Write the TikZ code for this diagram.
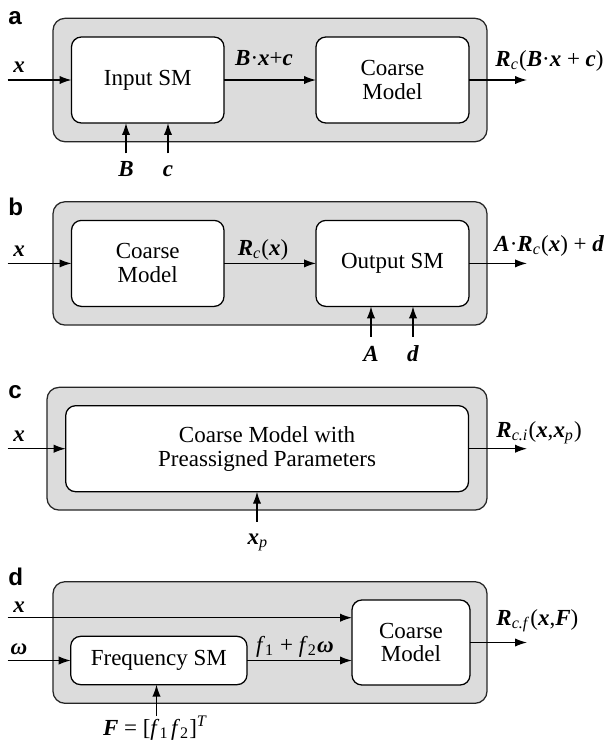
\documentclass[tikz,border=0pt]{standalone}
\usepackage{fontspec}
\setmainfont{Liberation Serif}
\newfontfamily\panelfont{Liberation Sans}
\usetikzlibrary{arrows.meta}

% one drawing unit
\newcommand\px{0.4348pt}
% bold italic vector / italic scalar
\newcommand\bv[1]{\textbf{\textit{#1}}}
\newcommand\iv[1]{\textit{#1}}

\definecolor{panelgray}{RGB}{220,220,220}

\tikzset{
  panel/.style 2 args={draw=black!85, fill=panelgray, line width=0.55pt,
    rounded corners=5.2pt, minimum width=#1*\px, minimum height=#2*\px,
    inner sep=0pt, outer sep=0pt},
  block/.style 2 args={draw=black, fill=white, line width=0.55pt,
    rounded corners=4.3pt, minimum width=#1*\px, minimum height=#2*\px,
    inner sep=0pt, outer sep=0pt, align=center,
    font=\fontsize{10}{10.4}\selectfont},
  flow/.style={line width=0.55pt, -{Latex[length=5.2pt,width=3.6pt]}},
  lbl/.style={anchor=base, inner sep=0pt},
  lbll/.style={anchor=base west, inner sep=0pt},
  tag/.style={anchor=base west, inner sep=0pt,
    font=\panelfont\bfseries\fontsize{10.5}{12}\selectfont},
}

\begin{document}
\begin{tikzpicture}[x=\px, y=-\px]
\useasboundingbox (0,0) rectangle (606,745);

% ---------------- (a) input space mapping ----------------
\node[tag] (tagA) at (8,24) {a};
\node[panel={434}{123.4}] (outA) at (270,80) {};
\node[block={152.5}{86}] (inA) at (147.75,80) {Input SM};
\node[block={153}{86}] (cmA) at (392.5,80) {Coarse\\Model};
\coordinate (xA) at (7.7,80);
\coordinate (yA) at (527,80);
\coordinate (BA) at (126,153.3);
\coordinate (cA) at (168,153.3);
\draw[flow] (xA) -- (inA.west);
\draw[flow] (inA.east) -- (cmA.west);
\draw[flow] (cmA.east) -- (yA);
\draw[flow] (BA) -- (BA |- inA.south);
\draw[flow] (cA) -- (cA |- inA.south);
\node[lbl] (lxA) at (19,72) {\bv{x}};
\node[lbl] (lmidA) at (264,65) {\bv{B}·\bv{x}+\bv{c}};
\node[lbll] (loutA) at (495,66) {\bv{R}\textsubscript{\iv{c}}(\bv{B}·\bv{x} + \bv{c})};
\node[lbl] (lBA) at (126,176) {\bv{B}};
\node[lbl] (lcA) at (168,176) {\bv{c}};

% ---------------- (b) output space mapping ----------------
\node[tag] (tagB) at (8,215) {b};
\node[panel={434}{123.3}] (outB) at (270,263.4) {};
\node[block={152.5}{86}] (cmB) at (147.75,263.4) {Coarse\\Model};
\node[block={153}{86}] (osB) at (392.5,263.4) {Output SM};
\coordinate (xB) at (7.7,263.4);
\coordinate (yB) at (527,263.4);
\coordinate (AB) at (371,336.7);
\coordinate (dB) at (413,336.7);
\draw[flow] (xB) -- (cmB.west);
\draw[flow] (cmB.east) -- (osB.west);
\draw[flow] (osB.east) -- (yB);
\draw[flow] (AB) -- (AB |- osB.south);
\draw[flow] (dB) -- (dB |- osB.south);
\node[lbl] (lxB) at (19,256) {\bv{x}};
\node[lbl] (lmidB) at (263,255) {\bv{R}\textsubscript{\iv{c}}(\bv{x})};
\node[lbll] (loutB) at (494,251) {\bv{A}·\bv{R}\textsubscript{\iv{c}}(\bv{x}) + \bv{d}};
\node[lbl] (lAB) at (371,361.7) {\bv{A}};
\node[lbl] (ldB) at (413,361.7) {\bv{d}};

% ---------------- (c) implicit space mapping ----------------
\node[tag] (tagC) at (8,398) {c};
\node[panel={440}{122.7}] (outC) at (267,448.7) {};
\node[block={402.8}{86}] (inC) at (267.1,448.7) {Coarse Model with\\Preassigned Parameters};
\coordinate (xC) at (7.7,448.7);
\coordinate (yC) at (527,448.7);
\coordinate (pC) at (257,521.7);
\draw[flow] (xC) -- (inC.west);
\draw[flow] (inC.east) -- (yC);
\draw[flow] (pC) -- (pC |- inC.south);
\node[lbl] (lxC) at (19,441) {\bv{x}};
\node[lbll] (loutC) at (496,437) {\bv{R}\textsubscript{\iv{c.i}}(\bv{x},\bv{x}\textsubscript{\iv{p}})};
\node[lbl] (lpC) at (258,544) {\bv{x}\textsubscript{\iv{p}}};

% ---------------- (d) frequency space mapping ----------------
\node[tag] (tagD) at (8,585) {d};
\node[panel={434}{121.6}] (outD) at (270,642.5) {};
\node[block={118}{85}] (cmD) at (411,642.5) {Coarse\\Model};
\node[block={176.3}{48.3}] (fsD) at (158.85,660.5) {Frequency SM};
\coordinate (xD) at (7.7,617.7);
\coordinate (wD) at (7.7,660.5);
\coordinate (yD) at (527,642.5);
\coordinate (FD) at (156.5,716);
\draw[flow] (xD) -- (xD -| cmD.west);
\draw[flow] (wD) -- (fsD.west);
\draw[flow] (fsD.east) -- (fsD.east -| cmD.west);
\draw[flow] (cmD.east) -- (yD);
\draw[flow] (FD) -- (FD |- fsD.south);
\node[lbl] (lxD) at (19,612) {\bv{x}};
\node[lbl] (lwD) at (19,654) {\bv{ω}};
\node[lbl] (lmidD) at (295,652) {\iv{f}\textsubscript{1} + \iv{f}\textsubscript{2}\bv{ω}};
\node[lbll] (loutD) at (496,625) {\bv{R}\textsubscript{\iv{c.f}}(\bv{x},\bv{F})};
\node[lbl] (lFD) at (155.5,735) {\bv{F} = [\iv{f}\textsubscript{1}\kern1pt\iv{f}\textsubscript{2}]\textsuperscript{\iv{T}}};
\end{tikzpicture}
\end{document}
